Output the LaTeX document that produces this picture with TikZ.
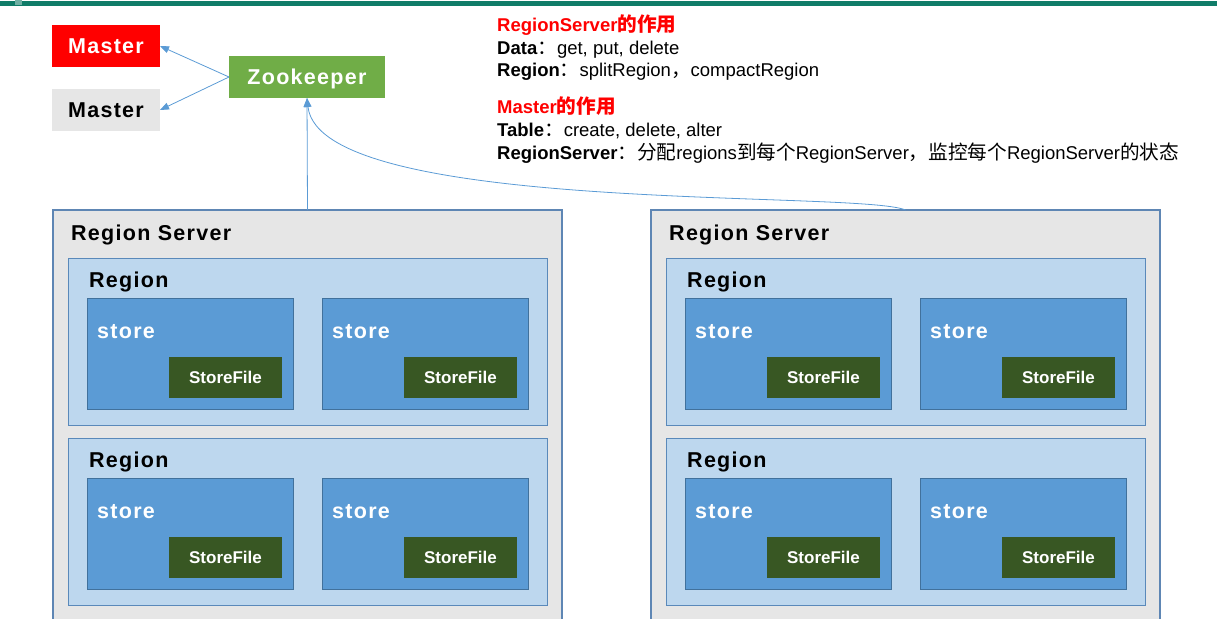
\documentclass[tikz,border=0pt]{standalone}
\usepackage{fontspec}
\setmainfont{Liberation Sans}
\newfontfamily\cjk[Scale=1.06]{Noto Sans CJK SC}
\newfontfamily\widefont[LetterSpace=6]{Liberation Sans}
\usetikzlibrary{arrows.meta}
\tikzset {>={Triangle[length=9pt,width=7pt]}}

\definecolor{barteal}{HTML}{107C68}
\definecolor{srvgray}{HTML}{E6E6E6}
\definecolor{srvline}{HTML}{5E86B4}
\definecolor{regfill}{HTML}{BDD7EE}
\definecolor{regline}{HTML}{5A89BA}
\definecolor{stfill}{HTML}{5B9BD5}
\definecolor{stline}{HTML}{41719C}
\definecolor{sffill}{HTML}{385723}
\definecolor{zkgreen}{HTML}{70AD47}
\definecolor{linkblue}{HTML}{5B9BD5}

\newcommand{\zh}[1]{{\cjk #1}}

\begin{document}
\begin{tikzpicture}[x=1pt,y=-1pt,
  box/.style={anchor=north west,inner sep=0pt,outer sep=0pt},
  srv/.style={box,draw=srvline,line width=1.2pt,fill=srvgray,minimum width=509pt,minimum height=430pt},
  reg/.style={box,draw=regline,line width=1pt,fill=regfill,minimum width=479pt,minimum height=167pt},
  stbox/.style={box,draw=stline,line width=1pt,fill=stfill,minimum width=206pt,minimum height=111pt},
  sfbox/.style={box,fill=sffill,text=white,minimum width=113pt,minimum height=41pt,
    font=\bfseries\fontsize{17}{20}\selectfont},
  bigtxt/.style={anchor=base west,inner sep=0pt,font=\widefont\bfseries\fontsize{21.5}{24}\selectfont},
  mbox/.style={box,minimum height=42pt,text height=15.4pt,text depth=0pt,
    font=\widefont\bfseries\fontsize{21.5}{24}\selectfont},
  info/.style={anchor=base west,inner sep=0pt,font=\fontsize{18.5}{22}\selectfont},
  link/.style={draw=linkblue,line width=0.8pt,->}]
\useasboundingbox (0,0) rectangle (1217,618);
\clip (0,0) rectangle (1217,618);

% top bar
\fill[barteal] (0,1) rectangle (1217,5.7);
\fill[barteal!60] (15,0) rectangle (22,5);

% master / zookeeper
\node[mbox,fill=red,text=white,minimum width=108pt] (m1) at (52,25) {Master};
\node[mbox,fill=srvgray,minimum width=108pt] (m2) at (52,89) {Master};
\node[mbox,fill=zkgreen,text=white,minimum width=156pt] (zk) at (229,56) {Zookeeper};

% region servers
\foreach \s/\x in {A/53,B/651} {
  \node[srv] (rs\s) at (\x,210) {};
  \node[bigtxt] (rs\s-t) at ([shift={(18,30)}]rs\s.north west) {Region Server};
  \foreach \r/\y in {1/258,2/438} {
    \node[reg] (reg\s\r) at (\x+15,\y) {};
    \node[bigtxt] (reg\s\r-t) at ([shift={(21,29)}]reg\s\r.north west) {Region};
    \foreach \k/\dx in {1/34,2/269} {
      \node[stbox] (st\s\r\k) at (\x+\dx,\y+40) {};
      \node[bigtxt,text=white] (st\s\r\k-t) at ([shift={(10,40)}]st\s\r\k.north west) {store};
      \node[sfbox] (sf\s\r\k) at ([shift={(82,59)}]st\s\r\k.north west) {StoreFile};
    }
  }
}

% connectors
\draw[link] (zk.west) -- (m1.east);
\draw[link] (zk.west) -- (m2.east);
\draw[link] (rsA.north) -- (zk.south);
\draw[link] (rsB.north) .. controls (860,190) and (320,215) .. (zk.south);

% notes
\node[info,text=red] (t1) at (497,32) {\bfseries RegionServer\zh{的作用}};
\node[info] (t2) at (497,55) {\textbf{Data}\zh{：}get, put, delete};
\node[info] (t3) at (497,77) {\textbf{Region}\zh{：}splitRegion\zh{，}compactRegion};
\node[info,text=red] (t4) at (497,113) {\bfseries Master\zh{的作用}};
\node[info] (t5) at (497,136) {\textbf{Table}\zh{：}create, delete, alter};
\node[info] (t6) at (497,159) {\textbf{RegionServer}\zh{：分配}regions\zh{到每个}RegionServer\zh{，监控每个}RegionServer\zh{的状态}};

\end{tikzpicture}
\end{document}
